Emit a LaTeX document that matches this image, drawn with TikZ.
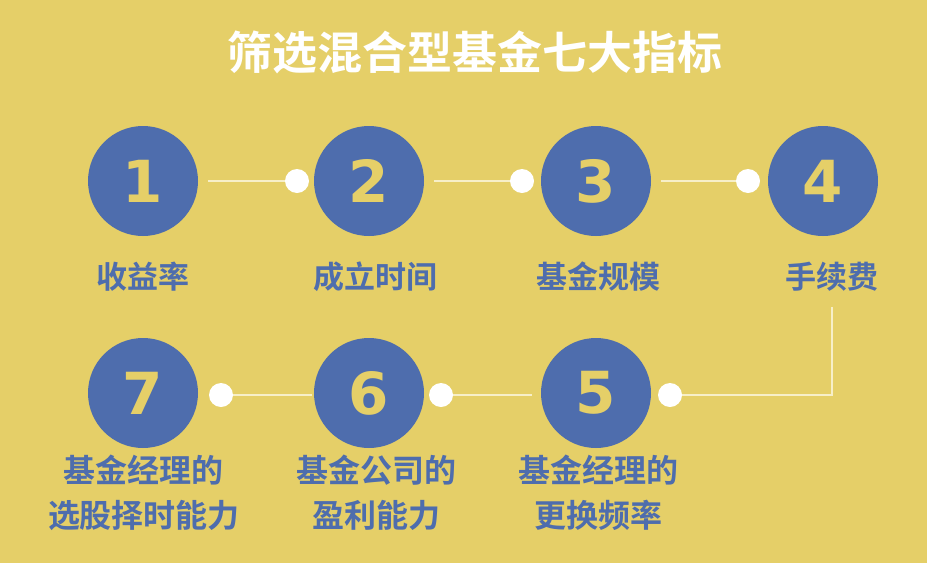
\documentclass[tikz,border=0pt]{standalone}
\usepackage{fontspec}
\newfontfamily\cjk{Noto Sans CJK SC}[BoldFont={Noto Sans CJK SC Bold}]
\newfontfamily\digitfont{DejaVu Sans}
\definecolor{bg}{HTML}{E5CF68}
\definecolor{blu}{HTML}{4E6DAD}
\definecolor{lin}{HTML}{F7EFC8}
\begin{document}
\begin{tikzpicture}[x=1pt,y=-1pt,
  numc/.style={circle,fill=blu,minimum size=110pt,inner sep=0pt,text=bg,font=\digitfont\bfseries\fontsize{58}{58}\selectfont},
  dotc/.style={circle,fill=white,minimum size=24pt,inner sep=0pt},
  lbl/.style={text=blu,font=\cjk\bfseries\fontsize{31}{45}\selectfont,align=center,inner sep=0pt},
  lblb/.style={lbl,font=\cjk\bfseries\fontsize{32}{45}\selectfont},
  conn/.style={draw=lin,line width=1.6pt}]
\fill[bg] (0,0) rectangle (927,563);
\useasboundingbox (0,0) rectangle (927,563);
\node[text=white,font=\cjk\bfseries\fontsize{45}{45}\selectfont,inner sep=0pt] (title) at (475,52) {筛选混合型基金七大指标};
% top row
\node[numc] (c1) at (143,181) {1};
\node[numc] (c2) at (369,181) {2};
\node[numc] (c3) at (596,181) {3};
\node[numc] (c4) at (823,181) {4};
\node[dotc] (d1) at (297,181) {};
\node[dotc] (d2) at (522,181) {};
\node[dotc] (d3) at (748,181) {};
\coordinate (s1) at (208,181);
\coordinate (s2) at (434,181);
\coordinate (s3) at (661,181);
\draw[conn] (s1) -- (d1);
\draw[conn] (s2) -- (d2);
\draw[conn] (s3) -- (d3);
\node[lbl] (l1) at (143,277) {收益率};
\node[lbl] (l2) at (375,277) {成立时间};
\node[lbl] (l3) at (598,277) {基金规模};
\node[lbl] (l4) at (832,277) {手续费};
% bottom row
\node[numc] (c7) at (143,393) {7};
\node[numc] (c6) at (369,393) {6};
\node[numc] (c5) at (596,393) {5};
\node[dotc] (d7) at (221,395) {};
\node[dotc] (d6) at (441,395) {};
\node[dotc] (d5) at (670,395) {};
\coordinate (e7) at (312,395);
\coordinate (e6) at (532,395);
\coordinate (top4) at (832,307);
\draw[conn] (d7) -- (e7);
\draw[conn] (d6) -- (e6);
\draw[conn] (d5) -- (832,395) -- (top4);
\node[lblb] (l7) at (144,493) {基金经理的\\选股择时能力};
\node[lblb] (l6) at (376,493) {基金公司的\\盈利能力};
\node[lblb] (l5) at (598,493) {基金经理的\\更换频率};
\end{tikzpicture}
\end{document}
